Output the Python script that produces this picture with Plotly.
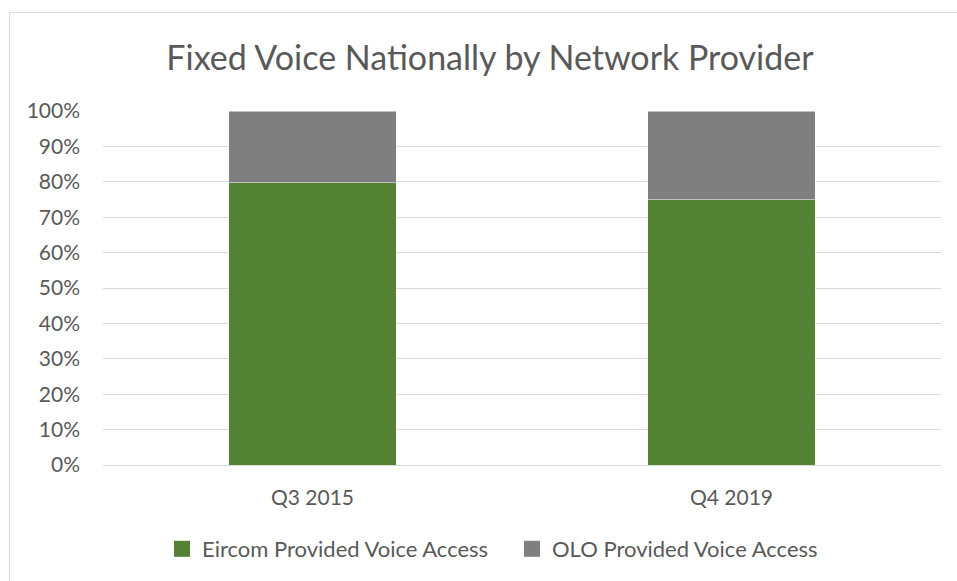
import plotly.graph_objects as go

categories = ["Q3 2015", "Q4 2019"]
eircom = [0.798, 0.75]
olo = [0.202, 0.25]
tick_vals = [0, 0.1, 0.2, 0.3, 0.4, 0.5, 0.6, 0.7, 0.8, 0.9, 1.0]
tick_text = ["0%", "10%", "20%", "30%", "40%", "50%", "60%", "70%", "80%", "90%", "100%"]
series_names = ["Eircom Provided Voice Access", "OLO Provided Voice Access"]
series_colors = ["#548235", "#7f7f7f"]

FONT = "Lato"
TXT = "#595959"

fig = go.Figure()
for vals, name, col in zip([eircom, olo], series_names, series_colors):
    fig.add_trace(go.Bar(x=categories, y=vals, name=name, showlegend=False,
                         marker=dict(color=col, line=dict(color="#ffffff", width=0.5))))
# legend entries with larger square swatches
for name, col in zip(series_names, series_colors):
    fig.add_trace(go.Scatter(x=[None], y=[None], mode="markers", name=name,
                             marker=dict(symbol="square", size=16, color=col)))

W, H = 957, 581
L, R, T, B = 103, 16, 111, 116
pw, ph = W - L - R, H - T - B

def px_x(px):
    return (px - L) / pw

def px_y(py):
    return (H - B - py) / ph

fig.add_shape(type="rect", xref="paper", yref="paper",
              x0=px_x(9.5), x1=px_x(975), y0=px_y(600), y1=px_y(12.5),
              line=dict(color="#d9d9d9", width=1), fillcolor="rgba(0,0,0,0)", layer="below")

fig.update_layout(
    width=W, height=H,
    margin=dict(l=L, r=R, t=T, b=B),
    barmode="stack",
    bargap=0.6,
    paper_bgcolor="white",
    plot_bgcolor="white",
    font=dict(family=FONT, color=TXT),
    title=dict(text="Fixed Voice Nationally by Network Provider",
               x=490 / W, xanchor="center", xref="container",
               y=1 - 58 / H, yanchor="middle", yref="container",
               font=dict(family=FONT, size=34, color=TXT)),
    xaxis=dict(showgrid=False, showline=True, linecolor="#d9d9d9", linewidth=1,
               ticks="", tickfont=dict(size=21, color=TXT), ticklabelstandoff=14,
               fixedrange=True),
    yaxis=dict(range=[0, 1], tickvals=tick_vals, ticktext=tick_text,
               showgrid=True, gridcolor="#d9d9d9", gridwidth=1, zeroline=False,
               showline=False, ticks="", tickfont=dict(size=21, color=TXT),
               ticklabelstandoff=22, fixedrange=True),
    legend=dict(orientation="h", x=162 / W, xanchor="left", xref="container",
                y=1 - 549 / H, yanchor="middle", yref="container",
                font=dict(size=22, color=TXT), traceorder="normal",
                itemwidth=30, entrywidth=305, entrywidthmode="pixels"),
    showlegend=True,
)

fig.write_html("out.html", config={"displayModeBar": False},
               post_script="document.body.style.margin='0';")
